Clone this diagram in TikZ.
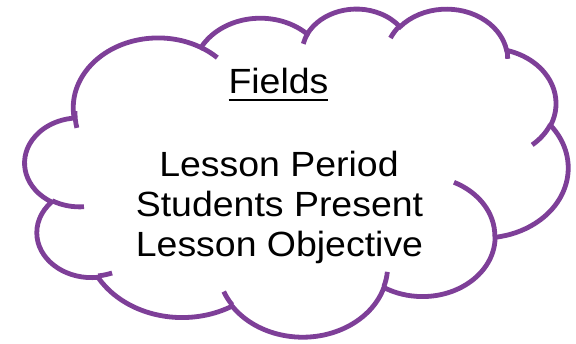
\documentclass[tikz,border=0pt]{standalone}
\usepackage{fontspec}
\setmainfont{Liberation Sans}
\definecolor{cloudpurple}{RGB}{126,63,152}
\newcommand\fieldul[1]{\setbox0\hbox{#1}\rlap{\rule[-8pt]{\wd0}{2.3pt}}\box0}
% parametric start/end angles of an elliptical arc given by visual angles
\newcommand\cldangles[5]{%
  \pgfmathsetmacro\cldtmpS{atan2((#2)*sin(#4),(#3)*cos(#4))}%
  \pgfmathsetmacro\cldtmpE{atan2((#2)*sin((#4)+(#5)),(#3)*cos((#4)+(#5)))}%
  \pgfmathsetmacro\cldtmpD{mod(\cldtmpE-\cldtmpS+720,360)}%
  \pgfmathsetmacro\cldtmpE{\cldtmpS+\cldtmpD}%
  \expandafter\xdef\csname cldS#1\endcsname{\cldtmpS}%
  \expandafter\xdef\csname cldE#1\endcsname{\cldtmpE}%
}
% outline arcs
\cldangles{a}{6.753}{9.190}{-190.4875}{123.7805}
\cldangles{b}{5.333}{7.267}{-144.1024}{89.9452}
\cldangles{c}{4.365}{5.945}{-145.8079}{99.7230}
\cldangles{d}{4.857}{6.595}{-130.9861}{117.2417}
\cldangles{e}{5.333}{7.273}{-78.7089}{109.0269}
\cldangles{f}{6.775}{9.220}{-46.2673}{130.2690}
\cldangles{g}{5.785}{7.867}{0.6250}{114.0333}
\cldangles{h}{6.752}{9.215}{22.4516}{115.1726}
\cldangles{i}{7.720}{10.543}{66.2426}{75.7110}
\cldangles{j}{4.360}{5.918}{-274.9421}{146.7356}
\cldangles{k}{4.345}{5.945}{-246.8285}{152.5189}
% inner tails
\cldangles{ta}{4.345}{5.945}{86.7420}{26.4295}
\cldangles{tb}{4.360}{5.918}{73.6105}{11.4475}
\cldangles{tc}{6.752}{9.215}{137.6242}{14.0811}
\cldangles{td}{6.752}{9.215}{6.4533}{15.9984}
\cldangles{te}{5.785}{7.867}{-70.2924}{70.9174}
\cldangles{tf}{5.333}{7.273}{30.3180}{27.7515}
\cldangles{tg}{4.857}{6.595}{-13.7443}{14.8589}
\cldangles{th}{4.857}{6.595}{-149.1815}{18.1954}
\cldangles{ti}{4.365}{5.945}{-163.4943}{17.6864}
\cldangles{tj}{6.753}{9.190}{-66.7070}{12.3194}
\cldangles{tk}{6.753}{9.190}{163.9249}{18.6867}
\newcommand\cldarc[3]{arc[start angle=\csname cldS#1\endcsname, end angle=\csname cldE#1\endcsname, x radius=#2, y radius=#3]}
\begin{document}
\begin{tikzpicture}[x=1pt,y=-1pt,
  cloudline/.style={draw=cloudpurple,line width=4.8pt},
  tail/.style={cloudline,line cap=butt},
  txt/.style={anchor=base,inner sep=0pt,font=\fontsize{35}{40}\selectfont}]
\useasboundingbox (0,0) rectangle (576,343);
\begin{scope}[shift={(25,8)},x=12.56944pt,y=-7.59259pt]
\coordinate (cs) at (3.900,14.370);
\draw[cloudline,fill=white] (cs)
  \cldarc{a}{6.753}{9.190}
  \cldarc{b}{5.333}{7.267}
  \cldarc{c}{4.365}{5.945}
  \cldarc{d}{4.857}{6.595}
  \cldarc{e}{5.333}{7.273}
  \cldarc{f}{6.775}{9.220}
  \cldarc{g}{5.785}{7.867}
  \cldarc{h}{6.752}{9.215}
  \cldarc{i}{7.720}{10.543}
  \cldarc{j}{4.360}{5.918}
  \cldarc{k}{4.345}{5.945} -- cycle;
\coordinate (ta) at (4.693,26.177);
\coordinate (tb) at (6.928,34.899);
\coordinate (tc) at (16.478,39.090);
\coordinate (td) at (28.827,34.751);
\coordinate (te) at (34.129,22.954);
\coordinate (tf) at (41.798,15.354);
\coordinate (tg) at (38.324,5.426);
\coordinate (th) at (29.078,3.952);
\coordinate (ti) at (22.141,4.720);
\coordinate (tj) at (14.000,5.192);
\coordinate (tk) at (4.127,15.789);
\draw[tail] (ta) \cldarc{ta}{4.345}{5.945};
\draw[tail] (tb) \cldarc{tb}{4.360}{5.918};
\draw[tail] (tc) \cldarc{tc}{6.752}{9.215};
\draw[tail] (td) \cldarc{td}{6.752}{9.215};
\draw[tail] (te) \cldarc{te}{5.785}{7.867};
\draw[tail] (tf) \cldarc{tf}{5.333}{7.273};
\draw[tail] (tg) \cldarc{tg}{4.857}{6.595};
\draw[tail] (th) \cldarc{th}{4.857}{6.595};
\draw[tail] (ti) \cldarc{ti}{4.365}{5.945};
\draw[tail] (tj) \cldarc{tj}{6.753}{9.190};
\draw[tail] (tk) \cldarc{tk}{6.753}{9.190};
\end{scope}
% text
\node[txt] (title) at (278.5,93) {\scalebox{1.07}[1]{\fieldul{Fields}}};
\node[txt] (l1) at (279,176) {\scalebox{1.07}[1]{Lesson Period}};
\node[txt] (l2) at (279.5,216) {\scalebox{1.07}[1]{Students Present}};
\node[txt] (l3) at (279.5,256) {\scalebox{1.07}[1]{Lesson Objective}};
\end{tikzpicture}
\end{document}
